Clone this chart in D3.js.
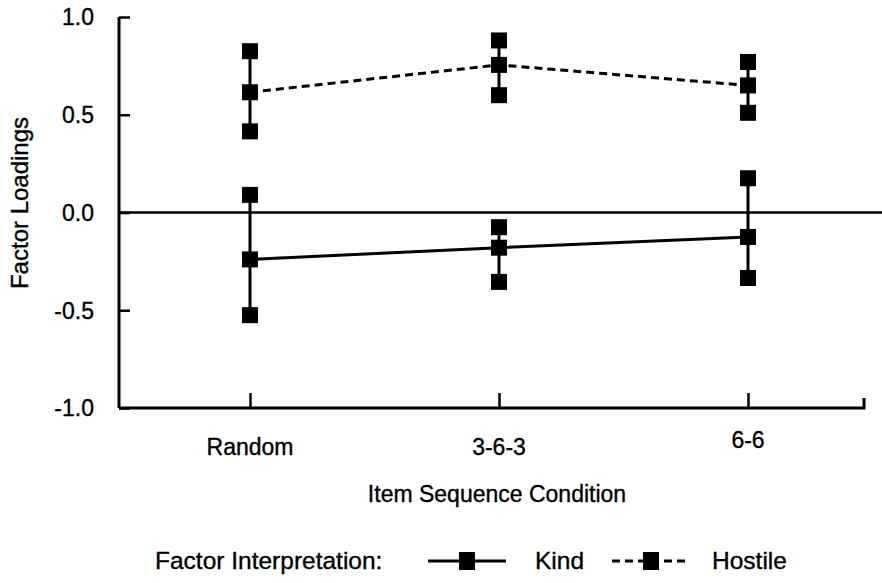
<!DOCTYPE html>
<html>
<head>
<meta charset="utf-8">
<script src="https://cdn.jsdelivr.net/npm/d3@7/dist/d3.min.js"></script>
<style>
	body { margin: 0; background: #fff; }
	text { font-family: "Liberation Sans", Arial, sans-serif; fill: #000; stroke: #000; stroke-width: 0.35px; }
</style>
</head>
<body>
<svg id="chart"></svg>
<script>
	// categories and loadings (top, mean, bottom)
	var conditions = ["Random", "3-6-3", "6-6"];
	var kindMean = [-0.24, -0.18, -0.125];
	var kindHigh = [0.09, -0.075, 0.175];
	var kindLow = [-0.525, -0.355, -0.335];
	var hostileMean = [0.615, 0.755, 0.65];
	var hostileHigh = [0.825, 0.88, 0.77];
	var hostileLow = [0.415, 0.6, 0.51];
	var yTicks = [-1.0, -0.5, 0.0, 0.5, 1.0];

	var width = 882, height = 583;
	var svg = d3.select("#chart").attr("width", width).attr("height", height);

	var x = d3.scaleLinear().domain([0, 2]).range([250, 748]);
	var y = d3.scaleLinear().domain([-1, 1]).range([408, 17]);
	var axisLeft = 119, axisRight = 864;

	//axes
	var yAxis = svg.append("g")
		.attr("transform", "translate(" + axisLeft + ",0)")
		.call(d3.axisRight(y).tickValues(yTicks).tickSize(11).tickFormat(""));
	yAxis.select(".domain").attr("d", "M0," + y(1) + "V" + y(-1)).attr("stroke-width", 3);
	yAxis.selectAll(".tick line").attr("stroke-width", 2.5);

	svg.selectAll("text.ylab")
		.data(yTicks)
		.enter().append("text")
		.attr("class", "ylab")
		.attr("x", 94)
		.attr("y", function(d) { return y(d); })
		.attr("dy", "0.36em")
		.attr("text-anchor", "end")
		.style("font-size", "23px")
		.text(function(d) { return d.toFixed(1); });

	var xAxis = svg.append("g")
		.attr("transform", "translate(0," + y(-1) + ")")
		.call(d3.axisTop(x).tickValues([0, 1, 2]).tickSize(15).tickFormat(""));
	xAxis.select(".domain").attr("d", "M" + axisLeft + ",0H" + axisRight + "V-10").attr("stroke-width", 3);
	xAxis.selectAll(".tick line").attr("stroke-width", 2.5);

	svg.selectAll("text.xlab")
		.data(conditions)
		.enter().append("text")
		.attr("class", "xlab")
		.attr("x", function(d, i) { return x(i); })
		.attr("y", function(d, i) { return i == 2 ? 448 : 455; })
		.attr("text-anchor", "middle")
		.style("font-size", "23px")
		.text(function(d) { return d; });

	// zero line
	svg.append("line")
		.attr("x1", axisLeft).attr("x2", width)
		.attr("y1", y(0)).attr("y2", y(0))
		.attr("stroke", "#000").attr("stroke-width", 2.5);

	// titles
	svg.append("text")
		.attr("transform", "translate(28,203) rotate(-90)")
		.attr("text-anchor", "middle")
		.style("font-size", "24px")
		.text("Factor Loadings");

	svg.append("text")
		.attr("x", 497).attr("y", 502)
		.attr("text-anchor", "middle")
		.style("font-size", "23px")
		.text("Item Sequence Condition");

	//series
	function series(mean, high, low, dash) {
		var g = svg.append("g");
		var line = d3.line()
			.x(function(d, i) { return x(i); })
			.y(function(d) { return y(d); });

		g.selectAll("line.err")
			.data(mean)
			.enter().append("line")
			.attr("x1", function(d, i) { return x(i); })
			.attr("x2", function(d, i) { return x(i); })
			.attr("y1", function(d, i) { return y(high[i]); })
			.attr("y2", function(d, i) { return y(low[i]); })
			.attr("stroke", "#000").attr("stroke-width", 3);

		g.append("path")
			.datum(mean)
			.attr("d", line)
			.attr("fill", "none")
			.attr("stroke", "#000")
			.attr("stroke-width", 3)
			.attr("stroke-dasharray", dash);

		var pts = [];
		mean.forEach(function(d, i) {
			pts.push([i, high[i]], [i, d], [i, low[i]]);
		});
		g.selectAll("rect")
			.data(pts)
			.enter().append("rect")
			.attr("x", function(d) { return x(d[0]) - 8; })
			.attr("y", function(d) { return y(d[1]) - 8; })
			.attr("width", 16).attr("height", 16)
			.attr("fill", "#000");
	}
	series(kindMean, kindHigh, kindLow, null);
	series(hostileMean, hostileHigh, hostileLow, "8,5");

	// legend
	var ly = 561;
	svg.append("text")
		.attr("x", 155).attr("y", ly + 8)
		.style("font-size", "24.5px")
		.text("Factor Interpretation:");

	function legendItem(x0, dash, label, tx) {
		svg.append("line")
			.attr("x1", x0).attr("x2", x0 + 78)
			.attr("y1", ly).attr("y2", ly)
			.attr("stroke", "#000").attr("stroke-width", 3)
			.attr("stroke-dasharray", dash);
		svg.append("rect")
			.attr("x", x0 + 39 - 8).attr("y", ly - 9)
			.attr("width", 16).attr("height", 18)
			.attr("fill", "#000");
		svg.append("text")
			.attr("x", tx).attr("y", ly + 8)
			.style("font-size", "24.5px")
			.text(label);
	}
	legendItem(428, null, "Kind", 535);
	legendItem(612, "8,5", "Hostile", 712);
</script>
</body>
</html>
